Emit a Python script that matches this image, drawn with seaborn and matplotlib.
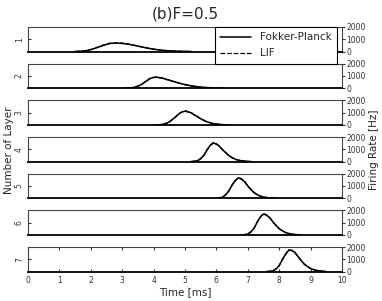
import matplotlib
matplotlib.use("Agg")
import matplotlib.pyplot as plt
import seaborn as sns
import numpy as np

# firing-rate curves per layer, sampled every 0.1 ms from a start time
layers = [1, 2, 3, 4, 5, 6, 7]
t_start = [1.5, 3.0, 4.1, 5.2, 6.0, 6.8, 7.6]
dt = 0.1

fp_rates = [
    [0, 10, 25, 50, 90, 150, 230, 320, 410, 500, 580, 640, 675, 690, 680, 660, 630, 590, 545,
     495, 440, 385, 330, 280, 232, 190, 152, 120, 94, 72, 55, 41, 30, 21, 14, 8, 4, 0],
    [0, 5, 15, 35, 80, 160, 280, 450, 640, 800, 880, 890, 860, 800, 730, 655, 575, 500, 425,
     355, 295, 240, 190, 150, 115, 88, 65, 48, 34, 23, 15, 8, 0],
    [0, 10, 40, 110, 240, 430, 660, 880, 1060, 1110, 1070, 970, 820, 655, 500, 360, 250, 165,
     105, 62, 35, 18, 8, 0],
    [0, 15, 70, 220, 520, 920, 1320, 1500, 1440, 1230, 960, 700, 480, 310, 190, 110, 60, 30, 12, 0],
    [0, 20, 90, 280, 620, 1050, 1450, 1650, 1580, 1330, 1000, 700, 460, 290, 170, 95, 50, 22, 8, 0],
    [0, 15, 70, 230, 560, 1020, 1480, 1700, 1620, 1380, 1060, 760, 510, 330, 200, 115, 60, 30, 12, 0],
    [0, 12, 60, 200, 500, 950, 1420, 1720, 1740, 1540, 1220, 890, 610, 400, 250, 150, 85, 45, 20, 0],
]
lif_rates = [
    [0, 15, 20, 60, 80, 170, 210, 350, 390, 540, 560, 690, 650, 720, 660, 700, 600, 620, 520,
     510, 420, 400, 310, 290, 220, 200, 140, 125, 85, 80, 50, 45, 25, 25, 10, 12, 0, 0],
    [0, 10, 10, 50, 70, 180, 260, 480, 620, 850, 860, 940, 830, 840, 700, 680, 550, 520, 400,
     370, 280, 250, 175, 160, 105, 95, 55, 50, 30, 25, 10, 10, 0],
    [0, 20, 30, 140, 210, 470, 620, 930, 1020, 1180, 1040, 1010, 780, 690, 470, 380, 230, 180,
     95, 70, 30, 20, 5, 0],
    [0, 25, 60, 260, 480, 980, 1280, 1560, 1400, 1290, 910, 740, 450, 330, 170, 120, 50, 35, 5, 0],
    [0, 30, 80, 320, 580, 1110, 1400, 1720, 1520, 1400, 950, 740, 430, 310, 150, 105, 40, 25, 5, 0],
    [0, 25, 60, 270, 520, 1080, 1430, 1760, 1570, 1440, 1010, 800, 480, 350, 180, 125, 50, 35, 5, 0],
    [0, 20, 50, 240, 460, 1010, 1380, 1790, 1700, 1600, 1170, 930, 580, 420, 230, 160, 75, 50, 10, 0],
]
x_ticks = [0, 1, 2, 3, 4, 5, 6, 7, 8, 9, 10]
rate_ticks = [0, 1000, 2000]

sns.set_style("ticks")
plt.rcParams['font.family'] = ['DejaVu Sans']

W, H = 382, 301
fig = plt.figure(figsize=(W / 100, H / 100), dpi=100)

left, right = 28, 342
top0, step, h = 27, 36.67, 24.5

for i, layer in enumerate(layers):
    top = top0 + i * step
    ax = fig.add_axes([left / W, 1 - (top + h) / H, (right - left) / W, h / H])
    t = t_start[i] + dt * np.arange(len(fp_rates[i]))
    sns.lineplot(x=t, y=fp_rates[i], ax=ax, color='black', lw=1.1, label='Fokker-Planck')
    sns.lineplot(x=t, y=lif_rates[i], ax=ax, color='black', lw=0.9, linestyle='--', label='LIF')
    ax.get_legend().remove()
    ax.set_xlim(0, 10)
    ax.set_ylim(0, 2000)
    ax.set_xticks(x_ticks)

    # layer number on the left
    ax2 = ax.twinx()
    ax2.set_ylim(0, 1)
    ax2.yaxis.tick_left()
    ax2.set_yticks([0.5])
    ax2.set_yticklabels([str(layer)], rotation=90, va='center')
    ax2.tick_params(axis='y', labelsize=5.5, length=2, direction='in', pad=3, colors='#333333')
    for s in ax2.spines.values():
        s.set_visible(False)

    # rate axis on the right
    ax.yaxis.tick_right()
    ax.set_yticks(rate_ticks)
    ax.tick_params(axis='y', left=False, labelleft=False, right=True, labelright=True,
                   labelsize=5.5, length=2, pad=1, colors='#333333')
    ax.tick_params(axis='x', labelsize=5.5, length=2, direction='in', top=True, colors='#333333')
    if i < len(layers) - 1:
        ax.set_xticklabels([])
        ax.tick_params(axis='x', length=0)
    for s in ax.spines.values():
        s.set_linewidth(0.8)
        s.set_color('#444444')
    ax.spines['bottom'].set_color('black')
    ax.spines['bottom'].set_linewidth(1.3)
    if i == 0:
        handles, labels = ax.get_legend_handles_labels()

leg = fig.legend(handles, labels, loc='upper left', bbox_to_anchor=(215 / W, 1 - 27 / H),
                 fontsize=7.5, frameon=True, fancybox=False, edgecolor='black',
                 handlelength=3.0, borderpad=0.5, labelspacing=0.6, borderaxespad=0)
leg.get_frame().set_linewidth(0.8)
leg.get_frame().set_alpha(1)

fig.text(185 / W, 1 - 14 / H, '(b)F=0.5', ha='center', va='center', fontsize=11)
fig.text(9 / W, 1 - 150 / H, 'Number of Layer', rotation=90, ha='center', va='center', fontsize=7.5)
fig.text(374 / W, 1 - 150 / H, 'Firing Rate [Hz]', rotation=90, ha='center', va='center', fontsize=7.5)
fig.text(185 / W, 1 - 292 / H, 'Time [ms]', ha='center', va='center', fontsize=7.5)

fig.savefig('out.png', dpi=100)
